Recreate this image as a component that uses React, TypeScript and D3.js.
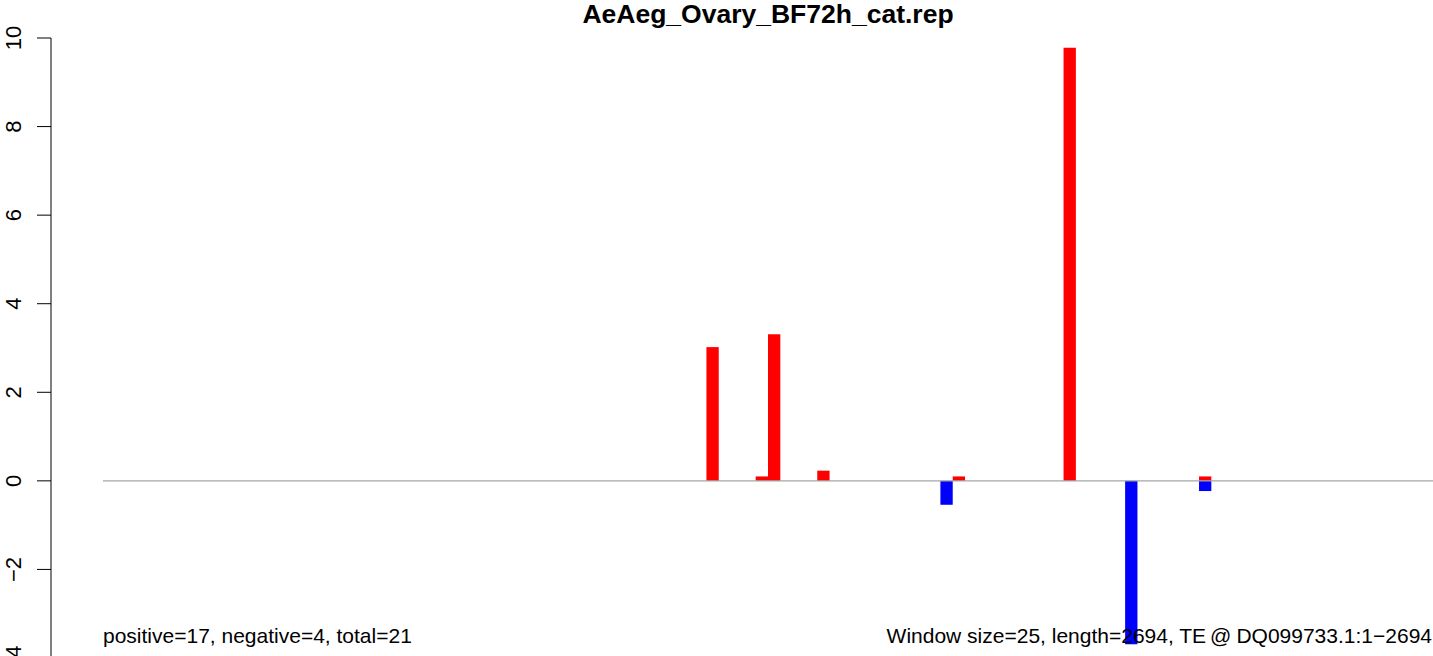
import React, { useEffect, useRef } from 'react';
import * as d3 from 'd3';

const title = 'AeAeg_Ovary_BF72h_cat.rep';
const windowCount = 108;

// windows (25 nt) with a read signal
const posWindows = [49, 53, 54, 58, 69, 78, 89];
const posValues = [3.02, 0.1, 3.31, 0.23, 0.1, 9.78, 0.1];
const negWindows = [68, 83, 89];
const negValues = [-0.54, -3.69, -0.23];

const yTicks = [-4, -2, 0, 2, 4, 6, 8, 10];
const leftNote = 'positive=17, negative=4, total=21';
const rightNoteParts = ['Window size=25, length=2694, TE', '@', 'DQ099733.1:1\u22122694'];

const App: React.FC = () => {
  const svgRef = useRef<SVGSVGElement | null>(null);

  useEffect(() => {
    if (!svgRef.current) return;
    const width = 1433;
    const height = 656;
    const svg = d3.select(svgRef.current);
    svg.selectAll('*').remove();
    svg.attr('width', width).attr('height', height);

    const font = 'Liberation Sans, Arial, Helvetica, sans-serif';

    const x = d3.scaleBand<number>()
      .domain(d3.range(windowCount))
      .range([103, 1433])
      .padding(0);

    const y = d3.scaleLinear().domain([-4, 10]).range([658, 38]);

    // bars
    const bars = [
      ...posWindows.map((w, i) => ({ w, v: posValues[i], color: '#ff0000' })),
      ...negWindows.map((w, i) => ({ w, v: negValues[i], color: '#0000ff' })),
    ];
    svg.append('g')
      .selectAll('rect')
      .data(bars)
      .enter()
      .append('rect')
      .attr('x', d => x(d.w) || 0)
      .attr('width', x.bandwidth())
      .attr('y', d => y(Math.max(0, d.v)))
      .attr('height', d => Math.abs(y(d.v) - y(0)))
      .attr('fill', d => d.color);

    // zero line
    svg.append('line')
      .attr('x1', 103).attr('x2', 1433)
      .attr('y1', y(0)).attr('y2', y(0))
      .attr('stroke', '#a6a6a6')
      .attr('stroke-width', 1.2);

    // y axis in R style
    const axis = svg.append('g').attr('stroke', '#000');
    axis.append('line')
      .attr('x1', 51).attr('x2', 51)
      .attr('y1', y(10)).attr('y2', y(-4))
      .attr('stroke-width', 1);
    axis.selectAll('line.tick')
      .data(yTicks)
      .enter()
      .append('line')
      .attr('class', 'tick')
      .attr('x1', 37).attr('x2', 51)
      .attr('y1', d => y(d)).attr('y2', d => y(d))
      .attr('stroke-width', 1);

    svg.append('g')
      .selectAll('text')
      .data(yTicks)
      .enter()
      .append('text')
      .attr('transform', d => `translate(20.5, ${y(d)}) rotate(-90)`)
      .attr('text-anchor', 'middle')
      .attr('font-family', font)
      .attr('font-size', 22)
      .attr('fill', '#000')
      .text(d => (d < 0 ? '\u2212' + Math.abs(d) : String(d)));

    // title
    svg.append('text')
      .attr('x', 768)
      .attr('y', 23)
      .attr('text-anchor', 'middle')
      .attr('font-family', font)
      .attr('font-weight', 'bold')
      .attr('font-size', 26.5)
      .text(title);

    // notes
    svg.append('text')
      .attr('x', 103)
      .attr('y', 643)
      .attr('font-family', font)
      .attr('font-size', 21)
      .text(leftNote);
    const right = svg.append('text')
      .attr('x', 1432)
      .attr('y', 643)
      .attr('text-anchor', 'end')
      .attr('font-family', font)
      .attr('font-size', 21);
    right.append('tspan').text(rightNoteParts[0]);
    right.append('tspan').attr('dx', 4).text(rightNoteParts[1]);
    right.append('tspan').attr('dx', 5).text(rightNoteParts[2]);
  }, []);

  return (
    <div style={{ position: 'absolute', left: 0, top: 0 }}>
      <svg ref={svgRef} style={{ display: 'block' }}></svg>
    </div>
  );
};

export default App;
